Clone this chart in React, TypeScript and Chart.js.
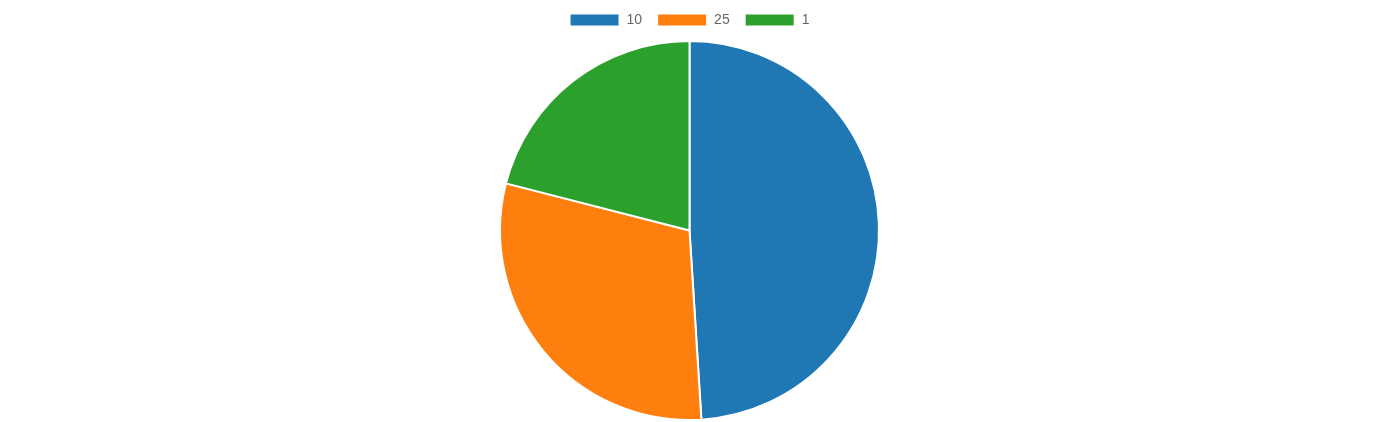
import React, { useEffect, useRef } from "react";
import { Chart, registerables } from "chart.js";

Chart.register(...registerables);

const categories = ["10", "25", "1"];
const values = [49, 30, 21];
const colors = ["#1f77b4", "#ff7f0e", "#2ca02c"];

const legendSpacer = {
  id: "legendSpacer",
  beforeInit(chart: any) {
    const legend = chart.legend;
    if (!legend) return;
    const origFit = legend.fit;
    legend.fit = function () {
      origFit.call(this);
      this.height += 3;
    };
  },
};

export default function App() {
  const ref = useRef<HTMLCanvasElement | null>(null);
  useEffect(() => {
    if (!ref.current) return;
    const chart = new Chart(ref.current, {
      type: "pie",
      data: {
        labels: categories,
        datasets: [
          {
            data: values,
            backgroundColor: colors,
            borderColor: "#ffffff",
            borderWidth: 2,
          },
        ],
      },
      options: {
        animation: false,
        responsive: true,
        maintainAspectRatio: false,
        layout: { padding: { top: -2, bottom: 1 } },
        plugins: {
          legend: {
            position: "top",
            labels: {
              boxWidth: 50,
              boxHeight: 13,
              padding: 15,
              color: "#666",
              font: { size: 14, family: "Arial, 'Liberation Sans', sans-serif" },
            },
          },
          tooltip: { enabled: false },
        },
      },
      plugins: [legendSpacer],
    });
    return () => chart.destroy();
  }, []);
  return (
    <div style={{ position: "fixed", left: 0, top: 0, width: 1379, height: 422 }}>
      <canvas ref={ref} />
    </div>
  );
}
